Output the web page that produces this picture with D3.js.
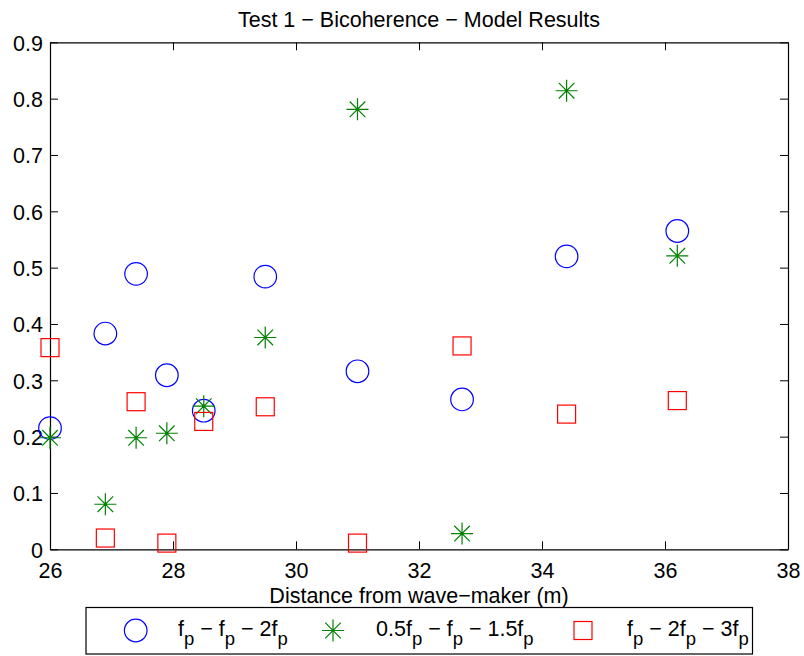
<!DOCTYPE html>
<html>
<head>
<meta charset="utf-8">
<script src="https://cdn.jsdelivr.net/npm/d3@7"></script>
<style>
  html, body { margin: 0; padding: 0; background: #fff; }
  svg { display: block; }
  text { font-family: "Liberation Sans", Arial, Helvetica, sans-serif; fill: #000; }
</style>
</head>
<body>
<svg id="chart" width="804" height="656"></svg>
<script>
// ---------------- data ----------------
const distances = [26.0, 26.9, 27.4, 27.9, 28.5, 29.5, 31.0, 32.7, 34.4, 36.2];
const seriesFpFp2fp = [0.215, 0.383, 0.489, 0.309, 0.246, 0.484, 0.316, 0.266, 0.520, 0.565];
const seriesHalfFp = [0.198, 0.080, 0.198, 0.206, 0.254, 0.376, 0.781, 0.028, 0.814, 0.521];
const seriesFp2fp3fp = [0.358, 0.020, 0.262, 0.011, 0.227, 0.253, 0.011, 0.361, 0.240, 0.264];
const xTicks = [26, 28, 30, 32, 34, 36, 38];
const yTicks = [0, 0.1, 0.2, 0.3, 0.4, 0.5, 0.6, 0.7, 0.8, 0.9];
const titleText = "Test 1 \u2212 Bicoherence \u2212 Model Results";
const xLabelText = "Distance from wave\u2212maker (m)";
// legend labels as [text, isSubscript] parts
const legendLabels = [
  [["f", 0], ["p", 1], [" \u2212 f", 0], ["p", 1], [" \u2212 2f", 0], ["p", 1]],
  [["0.5f", 0], ["p", 1], [" \u2212 f", 0], ["p", 1], [" \u2212 1.5f", 0], ["p", 1]],
  [["f", 0], ["p", 1], [" \u2212 2f", 0], ["p", 1], [" \u2212 3f", 0], ["p", 1]]
];

// ---------------- layout ----------------
const plotL = 50, plotR = 788, plotT = 42.3, plotB = 549.3;
const FS = 21.5;
const svg = d3.select("#chart");

const x = d3.scaleLinear().domain([26, 38]).range([plotL, plotR]);
const y = d3.scaleLinear().domain([0, 0.9]).range([plotB, plotT]);

// axes (ticks inward)
const tickLen = 8;
const axB = svg.append("g").attr("transform", `translate(0,${plotB})`)
  .call(d3.axisBottom(x).tickValues(xTicks).tickSizeInner(-tickLen).tickSizeOuter(0).tickPadding(13).tickFormat(d3.format("d")));
const axT = svg.append("g").attr("transform", `translate(0,${plotT})`)
  .call(d3.axisTop(x).tickValues(xTicks).tickSizeInner(-tickLen).tickSizeOuter(0).tickFormat(""));
const axL = svg.append("g").attr("transform", `translate(${plotL},0)`)
  .call(d3.axisLeft(y).tickValues(yTicks).tickSizeInner(-tickLen).tickSizeOuter(0).tickPadding(7)
    .tickFormat(d => d === 0 ? "0" : d3.format(".1f")(d)));
const axR = svg.append("g").attr("transform", `translate(${plotR},0)`)
  .call(d3.axisRight(y).tickValues(yTicks).tickSizeInner(-tickLen).tickSizeOuter(0).tickFormat(""));

[axB, axT, axL, axR].forEach(g => {
  g.select(".domain").attr("stroke", "#000").attr("stroke-width", 1.2);
  g.selectAll(".tick line").attr("stroke", "#000").attr("stroke-width", 1);
  g.selectAll(".tick text").attr("font-size", FS).attr("fill", "#000")
    .style("font-family", '"Liberation Sans", Arial, sans-serif');
});
axL.selectAll(".tick text").attr("dy", "0.36em");
axB.selectAll(".tick text").attr("dy", "0.71em");

// title & label
svg.append("text").attr("x", (plotL + plotR) / 2).attr("y", 26.5)
  .attr("text-anchor", "middle").attr("font-size", FS).text(titleText);
svg.append("text").attr("x", (plotL + plotR) / 2).attr("y", 603)
  .attr("text-anchor", "middle").attr("font-size", FS).text(xLabelText);

// marker drawers
const BLUE = "#0000ff", GREEN = "#008000", RED = "#ff0000";
function circleMarker(g, cx, cy) {
  g.append("circle").attr("cx", cx).attr("cy", cy).attr("r", 11.3)
    .attr("fill", "none").attr("stroke", BLUE).attr("stroke-width", 1.2);
}
function starMarker(g, cx, cy) {
  const a = 11, d = 7.8;
  const p = `M${cx - a},${cy}L${cx + a},${cy}M${cx},${cy - a}L${cx},${cy + a}` +
            `M${cx - d},${cy - d}L${cx + d},${cy + d}M${cx - d},${cy + d}L${cx + d},${cy - d}`;
  g.append("path").attr("d", p).attr("fill", "none").attr("stroke", GREEN).attr("stroke-width", 1.2);
  g.append("circle").attr("cx", cx).attr("cy", cy).attr("r", 1.3).attr("fill", GREEN);
}
function squareMarker(g, cx, cy) {
  const s = 9;
  g.append("rect").attr("x", cx - s).attr("y", cy - s).attr("width", 2 * s).attr("height", 2 * s)
    .attr("fill", "none").attr("stroke", RED).attr("stroke-width", 1.2);
}

const marks = svg.append("g");
distances.forEach((d, i) => circleMarker(marks, x(d), y(seriesFpFp2fp[i])));
distances.forEach((d, i) => starMarker(marks, x(d), y(seriesHalfFp[i])));
distances.forEach((d, i) => squareMarker(marks, x(d), y(seriesFp2fp3fp[i])));

// legend
const lg = svg.append("g");
lg.append("rect").attr("x", 86).attr("y", 607.5).attr("width", 666.5).attr("height", 46.5)
  .attr("fill", "#fff").attr("stroke", "#000").attr("stroke-width", 1.2);
const legendMarkerX = [135.7, 333, 583];
const legendTextX = [178, 376, 627];
const legendDraw = [circleMarker, starMarker, squareMarker];
const lyMid = 630.5, lyBase = 635.5;
legendLabels.forEach((parts, i) => {
  legendDraw[i](lg, legendMarkerX[i], lyMid);
  const t = lg.append("text").attr("x", legendTextX[i]).attr("y", lyBase).attr("font-size", FS);
  let sub = false;
  parts.forEach(([s, isSub]) => {
    const ts = t.append("tspan").text(s);
    if (isSub && !sub) { ts.attr("dy", 9).attr("font-size", 18.5); sub = true; }
    else if (!isSub && sub) { ts.attr("dy", -9); sub = false; }
  });
});
</script>
</body>
</html>
